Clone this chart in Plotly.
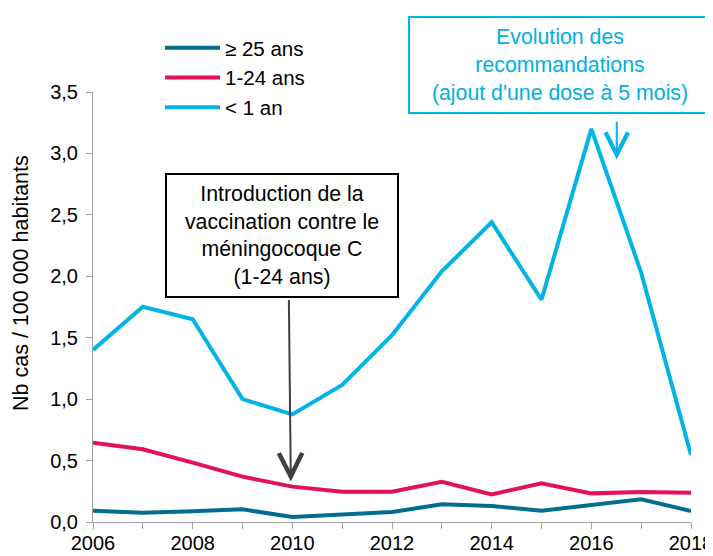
import plotly.graph_objects as go

years = list(range(2006, 2019))
ge25 = [0.092, 0.076, 0.087, 0.103, 0.041, 0.057, 0.081, 0.144, 0.130, 0.092, 0.141, 0.185, 0.090]
a1_24 = [0.646, 0.592, 0.483, 0.369, 0.288, 0.247, 0.247, 0.328, 0.225, 0.315, 0.233, 0.244, 0.239]
lt1 = [1.40, 1.752, 1.65, 1.00, 0.876, 1.115, 1.52, 2.04, 2.44, 1.81, 3.20, 2.03, 0.545]

series_names = ["≥ 25 ans", "1-24 ans", "< 1 an"]
series_colors = ["#006E8C", "#E3105C", "#00B4E6"]
x_tick_labels = [str(y) if y % 2 == 0 else "" for y in years]
y_title = "Nb cas / 100 000 habitants"

FONT = "Liberation Sans, Arial, sans-serif"
AXIS_GREY = "#A0A0A0"
FS = 20
FS_ANN = 21.3

fig = go.Figure()
for i, (name, vals, col) in enumerate(zip(series_names, [ge25, a1_24, lt1], series_colors)):
    fig.add_trace(go.Scatter(
        x=years, y=vals, mode="lines", name=name,
        line=dict(color=col, width=4), legendgroup=f"g{i}",
    ))

# page is offset by the 8px body margin
fig.update_layout(
    width=705, height=548,
    margin=dict(l=85, r=22, t=84, b=34),
    paper_bgcolor="white", plot_bgcolor="white",
    separators=", ",
    font=dict(family=FONT, size=FS, color="#000000"),
    showlegend=True,
    legend=dict(
        x=(160 - 93) / 598, y=1.0 + (92 - 28) / 430, xanchor="left", yanchor="top",
        font=dict(size=20.5, family=FONT), bgcolor="rgba(0,0,0,0)",
        itemwidth=55, tracegroupgap=0, traceorder="normal",
    ),
    xaxis=dict(
        range=[2006, 2018], tickmode="array", tickvals=years, ticktext=x_tick_labels,
        showline=True, linecolor=AXIS_GREY, linewidth=1, ticks="outside",
        ticklen=6, tickcolor=AXIS_GREY, showgrid=False, zeroline=False,
        tickfont=dict(size=20, family=FONT), automargin=False,
        ticklabeloverflow="allow", ticklabelstandoff=-3,
    ),
    yaxis=dict(
        range=[0, 3.5], dtick=0.5, tickformat=".1f",
        showline=True, linecolor=AXIS_GREY, linewidth=1, ticks="outside",
        ticklen=6, tickcolor=AXIS_GREY, showgrid=False, zeroline=False,
        tickfont=dict(size=FS, family=FONT), automargin=False, ticklabelstandoff=4,
    ),
)

# Y axis title (placed like the reference, above axis centre)
fig.add_annotation(
    xref="paper", yref="paper", x=(21 - 93) / 598, y=(522 - 283) / 430,
    xanchor="center", yanchor="middle", textangle=-90,
    text=y_title, showarrow=False, font=dict(size=21.5, family=FONT, color="#000000"),
)

# Annotation box 1 (black)
fig.add_annotation(
    xref="paper", yref="paper", x=(282 - 93) / 598, y=(522 - 235.5) / 430,
    xanchor="center", yanchor="middle",
    text="Introduction de la<br>vaccination contre le<br>méningocoque C<br>(1-24 ans)",
    showarrow=False, align="center", width=230, height=121,
    bordercolor="#000000", borderwidth=2, borderpad=0, bgcolor="white",
    font=dict(size=FS_ANN, family=FONT, color="#000000"),
)
fig.add_annotation(
    xref="x", yref="y", axref="x", ayref="y",
    x=2009.97, y=0.33, ax=2009.93, ay=1.82, text="",
    showarrow=True, arrowhead=5, arrowsize=2.3, arrowwidth=2, arrowcolor="#404040", standoff=0,
)

# Annotation box 2 (cyan)
fig.add_annotation(
    xref="paper", yref="paper", x=(560 - 93) / 598, y=(522 - 65.5) / 430,
    xanchor="center", yanchor="middle",
    text="Evolution des<br>recommandations<br>(ajout d'une dose à 5 mois)",
    showarrow=False, align="center", width=300, height=94,
    bordercolor="#00B4E6", borderwidth=2, borderpad=0, bgcolor="white",
    font=dict(size=FS_ANN, family=FONT, color="#00B0E0"),
)
fig.add_annotation(
    xref="x", yref="y", axref="x", ayref="y",
    x=2016.51, y=2.95, ax=2016.51, ay=3.27, text="",
    showarrow=True, arrowhead=5, arrowsize=2.2, arrowwidth=2, arrowcolor="#00B4E6", standoff=0,
)

fig.write_html("out.html")
